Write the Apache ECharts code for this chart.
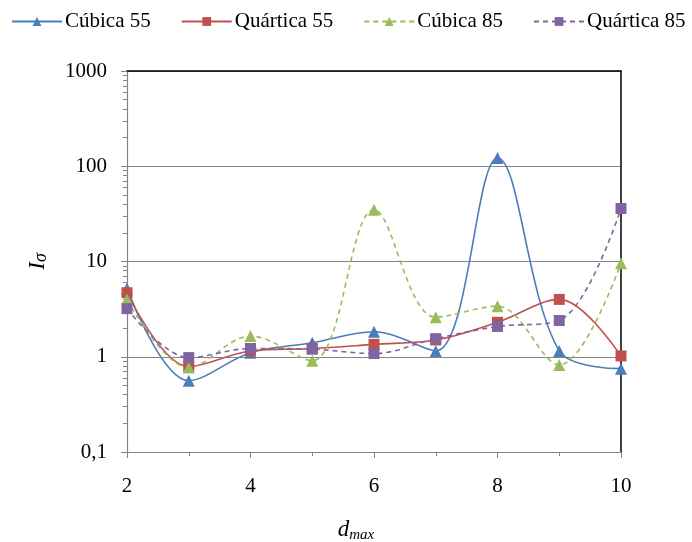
<!DOCTYPE html>
<html>
<head>
<meta charset="utf-8">
<script src="https://cdn.jsdelivr.net/npm/echarts@6/dist/echarts.min.js"></script>
<style>html,body{margin:0;padding:0;background:#fff}#c{width:692px;height:542px}</style>
</head>
<body>
<div id="c"></div>
<script>
const dmax = [2, 3, 4, 5, 6, 7, 8, 9, 10];
const cubica55 = [5.2, 0.56, 1.1, 1.4, 1.83, 1.15, 122, 1.15, 0.75];
const quartica55 = [4.7, 0.79, 1.15, 1.22, 1.35, 1.5, 2.3, 4.0, 1.02];
const cubica85 = [4.0, 0.77, 1.65, 0.91, 35, 2.6, 3.4, 0.82, 9.6];
const quartica85 = [3.2, 0.98, 1.22, 1.2, 1.08, 1.55, 2.08, 2.4, 36];
const yTicks = ['0,1', '1', '10', '100', '1000'];
const xTicks = ['2', '4', '6', '8', '10'];

const font = '"Liberation Serif", "DejaVu Serif", serif';
const pairs = arr => dmax.map((d, i) => [d, arr[i]]);

function mk(name, data, color, symbol, dashed) {
  return {
    name, type: 'line', data: pairs(data), smooth: 0.35,
    symbol, symbolSize: symbol === 'triangle' ? 12 : 11,
    itemStyle: { color },
    lineStyle: { color, width: 1.6, type: dashed ? [5, 4] : 'solid' },
    emphasis: { disabled: true }
  };
}

const chart = echarts.init(document.getElementById('c'), null, { renderer: 'canvas' });
chart.setOption({
  animation: false,
  backgroundColor: '#fff',
  textStyle: { fontFamily: font },
  legend: {
    top: 6, left: 6,
    itemWidth: 50, itemHeight: 11, itemGap: 30,
    textStyle: { fontFamily: font, fontSize: 21, color: '#000', padding: [0, 0, 0, -2] },
    data: ['Cúbica 55', 'Quártica 55', 'Cúbica 85', 'Quártica 85']
  },
  grid: { left: 127, right: 71, top: 71, bottom: 90, containLabel: false, outerBoundsMode: 'none' },
  xAxis: [{
    type: 'value', min: 2, max: 10, interval: 2,
    name: '{d|d}{s|max}', nameLocation: 'middle', nameGap: 66,
    nameTextStyle: {
      padding: [0, 36, 0, 0],
      rich: {
        d: { fontFamily: font, fontStyle: 'italic', fontSize: 23, color: '#000' },
        s: { fontFamily: font, fontStyle: 'italic', fontSize: 15, color: '#000', padding: [0, 0, -12, 0] }
      }
    },
    axisLine: { lineStyle: { color: '#868686', width: 1.2 } },
    axisTick: { show: true, length: 6, lineStyle: { color: '#868686' } },
    minorTick: { show: true, splitNumber: 2, length: 4, lineStyle: { color: '#868686' } },
    axisLabel: {
      fontFamily: font, fontSize: 21, color: '#000', margin: 24,
      formatter: v => xTicks[(v - 2) / 2]
    },
    splitLine: { show: false }
  }, {
    type: 'value', min: 2, max: 10, position: 'top',
    axisLine: { show: true, lineStyle: { color: '#000', width: 1.5 } },
    axisTick: { show: false }, axisLabel: { show: false }, splitLine: { show: false }
  }],
  yAxis: [{
    type: 'log', logBase: 10, min: 0.1, max: 1000,
    name: '{i|I}{s|σ}', nameLocation: 'middle', nameGap: 78,
    nameTextStyle: {
      rich: {
        i: { fontFamily: font, fontStyle: 'italic', fontSize: 23, color: '#000' },
        s: { fontFamily: font, fontStyle: 'italic', fontSize: 18, color: '#000', padding: [0, 0, -8, 0] }
      }
    },
    axisLine: { show: true, lineStyle: { color: '#868686', width: 1.2 } },
    axisTick: { show: true, length: 6, lineStyle: { color: '#868686' } },
    minorTick: { show: true, splitNumber: 9, length: 4, lineStyle: { color: '#868686' } },
    axisLabel: {
      fontFamily: font, fontSize: 21, color: '#000', margin: 20,
      formatter: v => yTicks[Math.round(Math.log10(v)) + 1]
    },
    splitLine: { show: true, lineStyle: { color: '#868686', width: 1.2 } }
  }, {
    type: 'log', logBase: 10, min: 0.1, max: 1000, position: 'right',
    axisLine: { show: true, lineStyle: { color: '#000', width: 1.5 } },
    axisTick: { show: false }, axisLabel: { show: false }, splitLine: { show: false }
  }],
  series: [
    mk('Cúbica 55', cubica55, '#4A7EBB', 'triangle', false),
    mk('Quártica 55', quartica55, '#C0504D', 'rect', false),
    mk('Cúbica 85', cubica85, '#9BBB59', 'triangle', true),
    mk('Quártica 85', quartica85, '#8064A2', 'rect', true)
  ]
});
</script>
</body>
</html>
